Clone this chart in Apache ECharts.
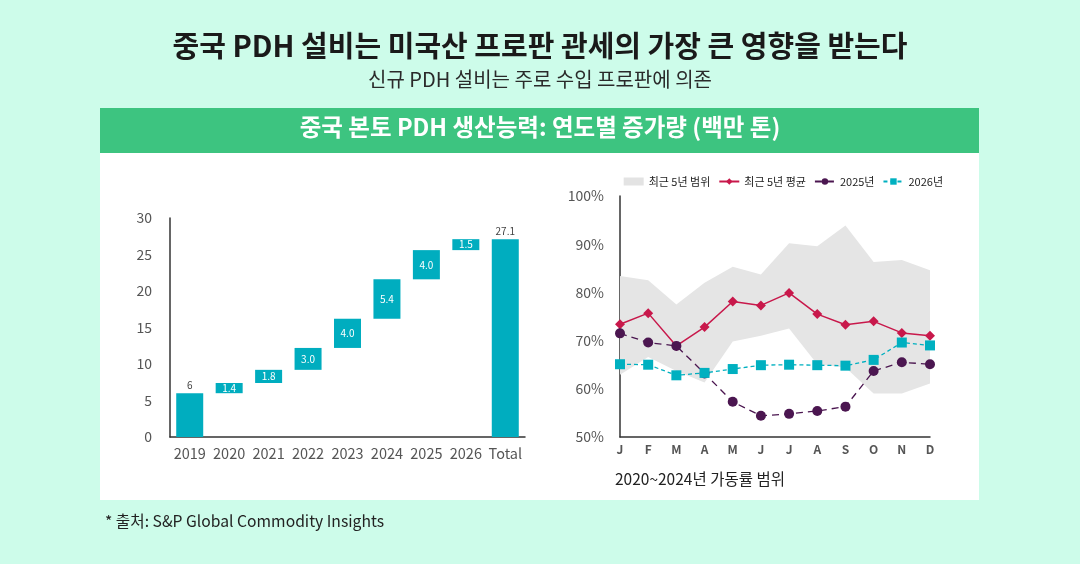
<!DOCTYPE html>
<html><head><meta charset="utf-8">
<script src="https://cdn.jsdelivr.net/npm/echarts@6/dist/echarts.min.js"></script>
<style>html,body{margin:0;padding:0;background:#cdfcea}#c{width:1080px;height:564px}</style>
</head><body><div id="c"></div>
<script>
// Left: waterfall
const years = ['2019','2020','2021','2022','2023','2024','2025','2026','Total'];
const increments = [6, 1.4, 1.8, 3.0, 4.0, 5.4, 4.0, 1.5, 27.1];
const incLabels = ['6','1.4','1.8','3.0','4.0','5.4','4.0','1.5','27.1'];
const leftTicks = [0, 5, 10, 15, 20, 25, 30];
// Right: utilisation
const months = ['J','F','M','A','M','J','J','A','S','O','N','D'];
const rangeLow  = [62.9, 66.6, 63.7, 61.3, 69.8, 71.0, 72.5, 65.1, 64.4, 59.0, 59.0, 61.1];
const rangeHigh = [83.4, 82.5, 77.5, 82.0, 85.3, 83.7, 90.2, 89.6, 93.9, 86.3, 86.7, 84.6];
const avg5 = [73.4, 75.7, 68.9, 72.8, 78.1, 77.3, 79.9, 75.5, 73.3, 74.0, 71.6, 71.0];
const y2025 = [71.5, 69.6, 68.9, 63.2, 57.3, 54.4, 54.8, 55.4, 56.3, 63.7, 65.5, 65.1];
const y2026 = [65.1, 65.0, 62.8, 63.3, 64.1, 64.9, 65.0, 64.9, 64.8, 66.0, 69.6, 69.0];

const FONT = '"Noto Sans CJK KR","Noto Sans",sans-serif';
const TEAL = '#00adbf';

// waterfall bases (library stacking)
const bases = [];
let run = 0;
for (let i = 0; i < years.length; i++) {
  if (i === 0 || i === years.length - 1) bases.push(0);
  else { bases.push(run); }
  if (i < years.length - 1) run += increments[i];
}
const barData = increments.map((v, i) => {
  const outside = (i === 0 || i === years.length - 1);
  return {
    value: v,
    label: outside
      ? {show: true, position: 'top', color: '#444', fontSize: 10, distance: 3, formatter: incLabels[i]}
      : {show: true, position: 'inside', color: '#fff', fontSize: 10, formatter: incLabels[i]}
  };
});
const rangeDiff = rangeHigh.map((h, i) => +(h - rangeLow[i]).toFixed(2));

const chart = echarts.init(document.getElementById('c'));
chart.setOption({
  backgroundColor: '#cdfcea',
  textStyle: {fontFamily: FONT},
  animation: false,
  graphic: [
    {type: 'rect', z: -10, shape: {x: 100, y: 108, width: 879, height: 392}, style: {fill: '#ffffff'}},
    {type: 'rect', z: -9, shape: {x: 100, y: 108, width: 879, height: 45}, style: {fill: '#3dc480'}},
    {type: 'text', left: 'center', top: 31, style: {text: '중국 PDH 설비는 미국산 프로판 관세의 가장 큰 영향을 받는다', fontSize: 29, fontWeight: 'bold', fill: '#1a1a1a', fontFamily: FONT}},
    {type: 'text', left: 'center', top: 69, style: {text: '신규 PDH 설비는 주로 수입 프로판에 의존', fontSize: 20, fill: '#2a2a2a', fontFamily: FONT}},
    {type: 'text', left: 'center', top: 115, style: {text: '중국 본토 PDH 생산능력: 연도별 증가량 (백만 톤)', fontSize: 23.5, fontWeight: 'bold', fill: '#ffffff', fontFamily: FONT}},
    {type: 'text', left: 615, top: 471, style: {text: '2020~2024년 가동률 범위', fontSize: 15.5, fill: '#222', fontFamily: FONT}},
    {type: 'text', left: 105, top: 513, style: {text: '* 출처: S&P Global Commodity Insights', fontSize: 15.7, fill: '#222', fontFamily: FONT}}
  ],
  legend: {
    right: 132, top: 171,
    itemWidth: 20, itemHeight: 8, itemGap: 8,
    textStyle: {fontSize: 11, color: '#222', fontFamily: FONT},
    data: [
      {name: '최근 5년 범위', icon: 'rect', itemStyle: {color: '#e3e3e3'}},
      '최근 5년 평균', '2025년', '2026년'
    ]
  },
  grid: [
    {left: 170, right: 555, top: 218, bottom: 127},
    {left: 620, right: 150, top: 196, bottom: 127}
  ],
  xAxis: [
    {type: 'category', gridIndex: 0, data: years,
      axisLine: {lineStyle: {color: '#333', width: 1.5}}, axisTick: {show: false},
      axisLabel: {color: '#555', fontSize: 14.5, margin: 9, interval: 0}},
    {type: 'category', gridIndex: 1, data: months, boundaryGap: false,
      axisLine: {lineStyle: {color: '#333', width: 1.5}}, axisTick: {show: false},
      axisLabel: {color: '#555', fontSize: 12, margin: 6, fontWeight: 'bold', interval: 0}}
  ],
  yAxis: [
    {type: 'value', gridIndex: 0, min: leftTicks[0], max: leftTicks[leftTicks.length - 1], interval: 5,
      axisLine: {show: true, lineStyle: {color: '#333', width: 1.5}}, axisTick: {show: false},
      splitLine: {show: false}, axisLabel: {color: '#555', fontSize: 14, margin: 18}},
    {type: 'value', gridIndex: 1, min: 50, max: 100, interval: 10,
      axisLine: {show: true, lineStyle: {color: '#333', width: 1.5}}, axisTick: {show: false},
      splitLine: {show: false}, axisLabel: {color: '#555', fontSize: 14, margin: 16, formatter: '{value}%'}}
  ],
  series: [
    {type: 'bar', xAxisIndex: 0, yAxisIndex: 0, stack: 'wf', data: bases, barWidth: 27,
      itemStyle: {color: 'transparent'}, silent: true, legendHoverLink: false},
    {type: 'bar', xAxisIndex: 0, yAxisIndex: 0, stack: 'wf', data: barData, barWidth: 27,
      itemStyle: {color: TEAL}},
    {name: 'lowerRange', type: 'line', xAxisIndex: 1, yAxisIndex: 1, stack: 'range', data: rangeLow,
      symbol: 'none', lineStyle: {width: 0, opacity: 0}, silent: true},
    {name: '최근 5년 범위', type: 'line', xAxisIndex: 1, yAxisIndex: 1, stack: 'range', data: rangeDiff,
      symbol: 'none', lineStyle: {width: 0, opacity: 0}, itemStyle: {color: '#e3e3e3'},
      areaStyle: {color: '#e5e5e5', opacity: 1}, silent: true},
    {name: '최근 5년 평균', type: 'line', xAxisIndex: 1, yAxisIndex: 1, data: avg5,
      symbol: 'diamond', symbolSize: 10, color: '#c8184b',
      lineStyle: {width: 1.5, color: '#c8184b'}, itemStyle: {color: '#c8184b'}},
    {name: '2025년', type: 'line', xAxisIndex: 1, yAxisIndex: 1, data: y2025,
      symbol: 'circle', symbolSize: 10, color: '#4b1650',
      lineStyle: {width: 1.3, type: [7, 5], color: '#4b1650'}, itemStyle: {color: '#4b1650'}},
    {name: '2026년', type: 'line', xAxisIndex: 1, yAxisIndex: 1, data: y2026,
      symbol: 'rect', symbolSize: 10, color: '#00b0c0',
      lineStyle: {width: 1.3, type: [4, 3], color: '#00b0c0'}, itemStyle: {color: '#00b0c0'}}
  ]
});
</script>
</body></html>
